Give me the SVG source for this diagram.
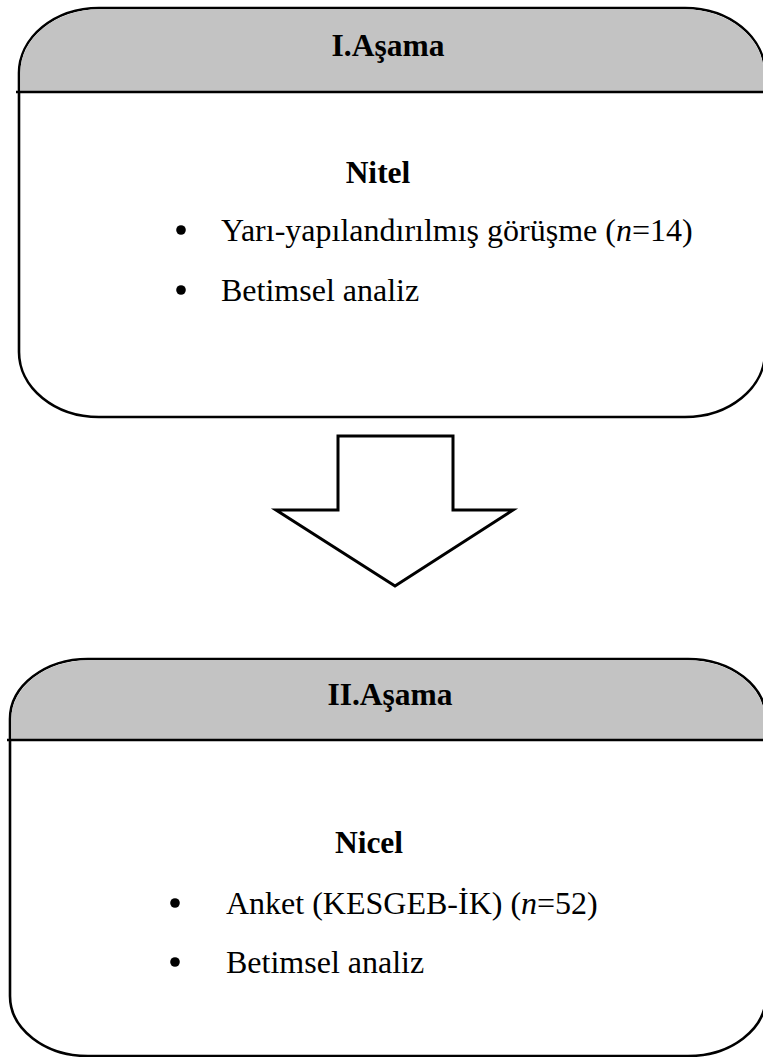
<svg xmlns="http://www.w3.org/2000/svg" width="763" height="1057" viewBox="0 0 763 1057">
  <style>
    .box { fill: #ffffff; stroke: #000000; stroke-width: 2.6; }
    .hdr { fill: #c3c3c3; stroke: none; }
    .sep { stroke: #000000; stroke-width: 2.6; }
    .title { font-family: "Liberation Serif", "Times New Roman", serif; font-size: 31.5px; font-weight: bold; fill: #000; text-anchor: middle; }
    .body { font-family: "Liberation Serif", "Times New Roman", serif; font-size: 32px; fill: #000; }
    .arrow { fill: #ffffff; stroke: #000000; stroke-width: 3; stroke-linejoin: miter; }
  </style>
  <rect width="763" height="1057" fill="#ffffff"/>

  <g id="stage1">
    <path class="box" d="M 99,8 H 685 A 80 65 0 0 1 765 73 V 352 A 80 65 0 0 1 685 417 H 99 A 80 65 0 0 1 19 352 V 73 A 80 65 0 0 1 99 8 Z"/>
    <path class="hdr" d="M 20.3,92 V 73 A 78.7 63.7 0 0 1 99 9.3 H 685 A 78.7 63.7 0 0 1 763.7 73 V 92 Z"/>
    <line class="sep" x1="16" y1="92" x2="763" y2="92"/>
    <text class="title" x="388" y="56">I.Aşama</text>
    <text class="title" x="378" y="183">Nitel</text>
    <circle cx="181" cy="230" r="4.8" fill="#000"/>
    <text class="body" x="221" y="241">Yarı-yapılandırılmış görüşme (<tspan font-style="italic">n</tspan>=14)</text>
    <circle cx="181" cy="290" r="4.8" fill="#000"/>
    <text class="body" x="221" y="301">Betimsel analiz</text>
  </g>

  <g id="connectors">
    <polygon class="arrow" points="338,436 453,436 453,510 513,510 395,586 276,510 338,510"/>
  </g>

  <g id="stage2">
    <path class="box" d="M 88,659 H 688 A 78 60 0 0 1 766 719 V 996 A 78 60 0 0 1 688 1056 H 88 A 78 60 0 0 1 10 996 V 719 A 78 60 0 0 1 88 659 Z"/>
    <path class="hdr" d="M 11.3,740 V 719 A 76.7 58.7 0 0 1 88 660.3 H 688 A 76.7 58.7 0 0 1 764.7 719 V 740 Z"/>
    <line class="sep" x1="7" y1="740" x2="763" y2="740"/>
    <text class="title" x="390" y="705">II.Aşama</text>
    <text class="title" x="369" y="853">Nicel</text>
    <circle cx="175" cy="903" r="4.8" fill="#000"/>
    <text class="body" x="226" y="914">Anket (KESGEB-İK) (<tspan font-style="italic">n</tspan>=52)</text>
    <circle cx="175" cy="962" r="4.8" fill="#000"/>
    <text class="body" x="226" y="973">Betimsel analiz</text>
  </g>
</svg>
